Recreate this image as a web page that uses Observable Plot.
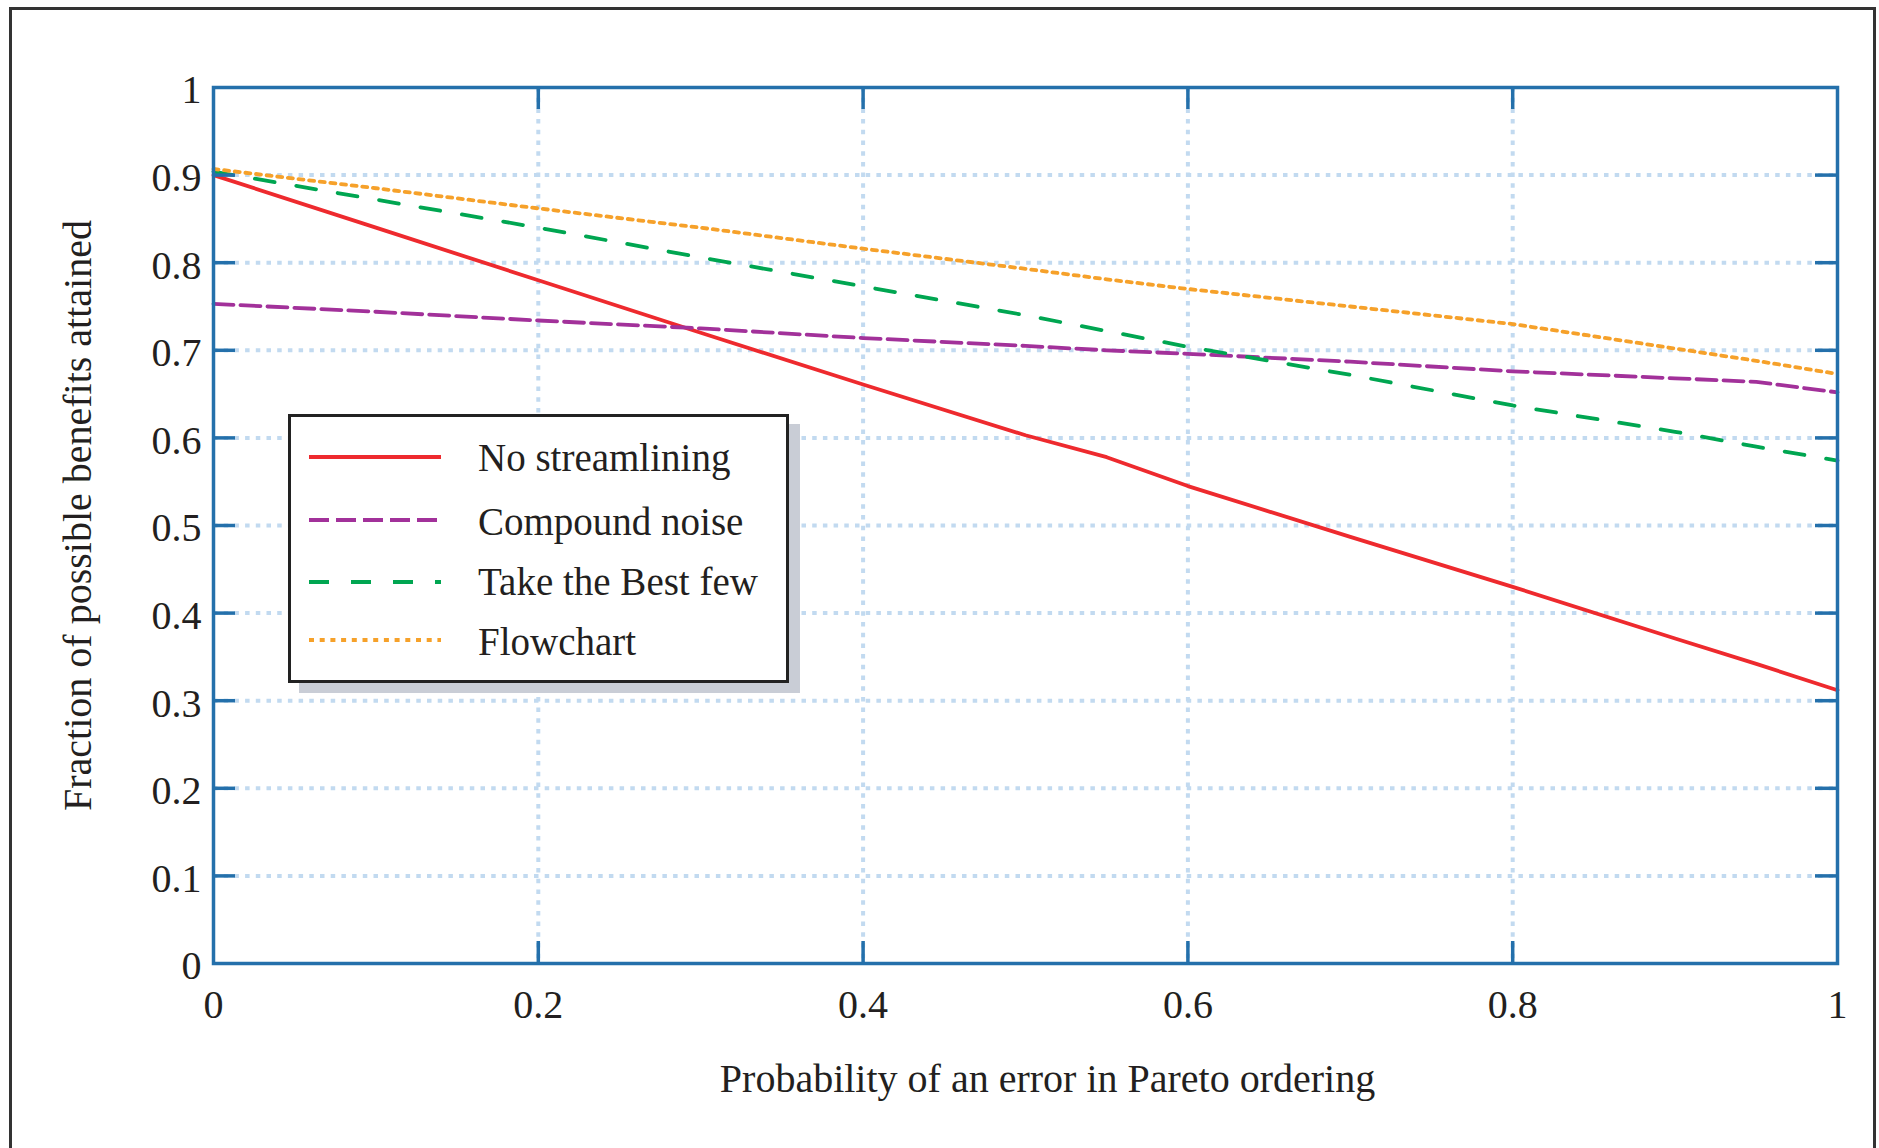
<!DOCTYPE html>
<html>
<head>
<meta charset="utf-8">
<script src="https://cdn.jsdelivr.net/npm/d3@7"></script>
<script src="https://cdn.jsdelivr.net/npm/@observablehq/plot@0.6"></script>
<style>
html,body{margin:0;padding:0;background:#fff;overflow:hidden;}
#wrap{position:relative;width:1879px;height:1148px;font-family:"Liberation Serif","Times New Roman",serif;color:#231f20;background:#fff;}
#border{position:absolute;left:9px;top:7px;width:1867px;height:1300px;border:3px solid #333;box-sizing:border-box;pointer-events:none;}
#legend{position:absolute;left:288px;top:414px;width:501px;height:269px;border:3px solid #222;box-sizing:border-box;background:#fff;box-shadow:11px 10px 0 #c9cdd6;}
#legend svg{position:absolute;left:-3px;top:-3px;}
</style>
</head>
<body>
<div id="wrap">
  <div id="chart"></div>
  <div id="border"></div>
  <div id="legend"></div>
</div>
<script>
// ---- data ----
const xValues = [0, 0.1, 0.2, 0.3, 0.4, 0.5, 0.55, 0.6, 0.7, 0.8, 0.9, 0.95, 1];
const noStreamlining = [0.900, 0.840, 0.780, 0.720, 0.661, 0.603, 0.578, 0.545, 0.487, 0.430, 0.371, 0.342, 0.312];
const compoundNoise  = [0.753, 0.744, 0.734, 0.725, 0.714, 0.705, 0.700, 0.696, 0.687, 0.676, 0.668, 0.664, 0.652];
const takeTheBest    = [0.904, 0.872, 0.840, 0.806, 0.773, 0.740, 0.722, 0.704, 0.672, 0.637, 0.607, 0.590, 0.574];
const flowchart      = [0.907, 0.885, 0.862, 0.840, 0.816, 0.793, 0.781, 0.770, 0.750, 0.730, 0.702, 0.688, 0.673];

const seriesNames = ["No streamlining", "Compound noise", "Take the Best few", "Flowchart"];
const seriesValues = [noStreamlining, compoundNoise, takeTheBest, flowchart];
const seriesColors = ["#ee2a2e", "#a2319a", "#00a651", "#f6a12a"];
const seriesDashes = [null, "20,7", "20,22", "5,5.7"];

const xTicks = [0, 0.2, 0.4, 0.6, 0.8, 1];
const yTicks = [0, 0.1, 0.2, 0.3, 0.4, 0.5, 0.6, 0.7, 0.8, 0.9, 1];
const xInner = [0.2, 0.4, 0.6, 0.8];
const yInner = [0.1, 0.2, 0.3, 0.4, 0.5, 0.6, 0.7, 0.8, 0.9];
const xLabel = "Probability of an error in Pareto ordering";
const yLabel = "Fraction of possible benefits attained";

// ---- layout ----
const W = 1879, H = 1148;
const mL = 213, mR = 42, mT = 87, mB = 185;
const plotW = W - mL - mR, plotH = H - mT - mB;
const tickLen = 22;
const axisColor = "#2470ab";
const gridColor = "#c2daf0";
const font = '"Liberation Serif","Times New Roman",serif';
const fmt = d => String(d);

const rows = seriesNames.map((name, i) => xValues.map((x, j) => ({x, y: seriesValues[i][j], series: name})));

const chart = Plot.plot({
  width: W, height: H,
  marginLeft: mL, marginRight: mR, marginTop: mT, marginBottom: mB,
  x: {domain: [0, 1]},
  y: {domain: [0, 1]},
  style: {fontFamily: font, fontSize: "40px", color: "#231f20", background: "transparent", overflow: "visible"},
  marks: [
    Plot.gridX(xInner, {stroke: gridColor, strokeOpacity: 1, strokeWidth: 4, strokeDasharray: "4.5,6.2"}),
    Plot.gridY(yInner, {stroke: gridColor, strokeOpacity: 1, strokeWidth: 4, strokeDasharray: "4.5,6.2"}),
    ...rows.map((r, i) => Plot.line(r, {x: "x", y: "y", stroke: seriesColors[i], strokeWidth: 3.8, strokeDasharray: seriesDashes[i]})),
    Plot.frame({stroke: axisColor, strokeWidth: 3.5}),
    Plot.tickY(yInner, {y: d => d, stroke: axisColor, strokeWidth: 3.5, insetRight: plotW - tickLen}),
    Plot.tickY(yInner, {y: d => d, stroke: axisColor, strokeWidth: 3.5, insetLeft: plotW - tickLen}),
    Plot.tickX(xInner, {x: d => d, stroke: axisColor, strokeWidth: 3.5, insetBottom: plotH - tickLen}),
    Plot.tickX(xInner, {x: d => d, stroke: axisColor, strokeWidth: 3.5, insetTop: plotH - tickLen}),
    Plot.axisX(xTicks, {tickSize: 0, tickPadding: 26, tickFormat: fmt, fontSize: 40, label: null, fill: "#231f20"}),
    Plot.axisY(yTicks, {tickSize: 0, tickPadding: 12, tickFormat: fmt, fontSize: 40, label: null, dy: 3, fill: "#231f20"}),
    Plot.text([xLabel], {frameAnchor: "bottom", textAnchor: "middle", dx: 22, dy: 128, fontSize: 40, fill: "#231f20"}),
    Plot.text([yLabel], {frameAnchor: "left", textAnchor: "middle", rotate: -90, dx: -135, dy: -10, fontSize: 40, fill: "#231f20"})
  ]
});
document.getElementById("chart").appendChild(chart);

// ---- legend ----
const lsvg = d3.select("#legend").append("svg").attr("width", 501).attr("height", 269)
  .style("font-family", font);
const rowY = [43, 106, 168, 226];
const textY = [57, 121, 181, 241];
seriesNames.forEach((name, i) => {
  lsvg.append("line")
    .attr("x1", 21).attr("x2", 153).attr("y1", rowY[i]).attr("y2", rowY[i])
    .attr("stroke", seriesColors[i]).attr("stroke-width", 3.8)
    .attr("stroke-dasharray", seriesDashes[i]);
  lsvg.append("text").attr("x", 190).attr("y", textY[i])
    .attr("font-size", 39).attr("fill", "#231f20").text(name);
});
</script>
</body>
</html>
